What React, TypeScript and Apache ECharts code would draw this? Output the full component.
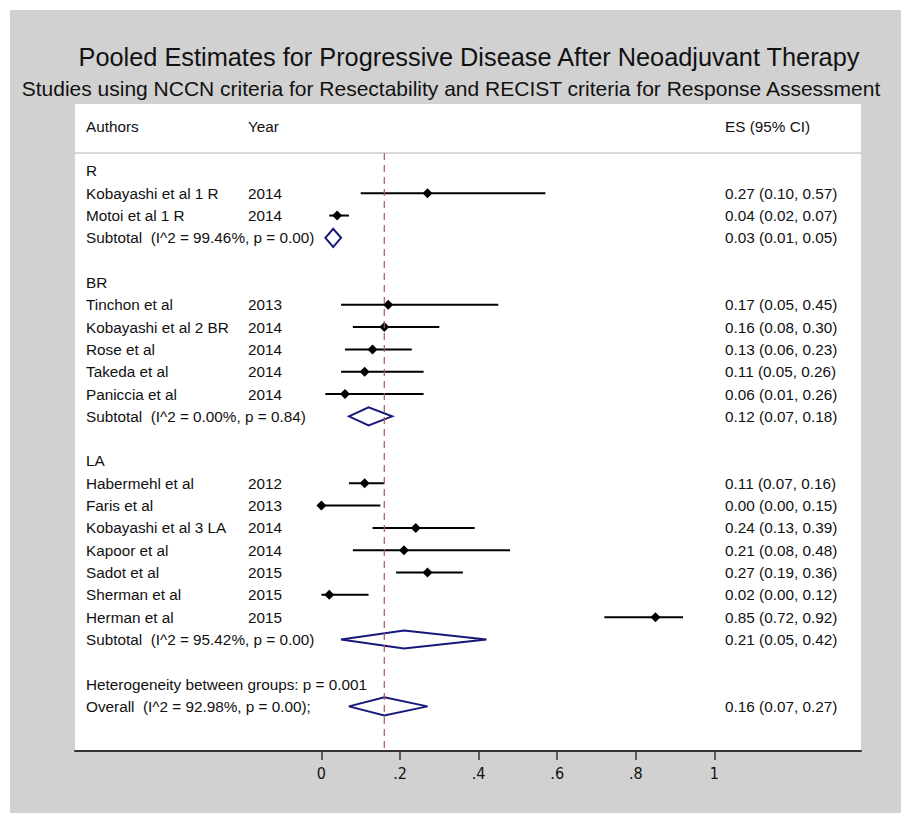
import React, { useEffect, useRef } from "react";
import * as echarts from "echarts";

// ---- data ----
const groupNames = ["R", "BR", "LA"];
const studyAuthors = [
  "Kobayashi et al 1 R", "Motoi et al 1 R",
  "Tinchon et al", "Kobayashi et al 2 BR", "Rose et al", "Takeda et al", "Paniccia et al",
  "Habermehl et al", "Faris et al", "Kobayashi et al 3 LA", "Kapoor et al", "Sadot et al", "Sherman et al", "Herman et al",
];
const studyGroup = ["R", "R", "BR", "BR", "BR", "BR", "BR", "LA", "LA", "LA", "LA", "LA", "LA", "LA"];
const studyYears = [2014, 2014, 2013, 2014, 2014, 2014, 2014, 2012, 2013, 2014, 2014, 2015, 2015, 2015];
const studyES = [0.27, 0.04, 0.17, 0.16, 0.13, 0.11, 0.06, 0.11, 0.0, 0.24, 0.21, 0.27, 0.02, 0.85];
const studyLo = [0.10, 0.02, 0.05, 0.08, 0.06, 0.05, 0.01, 0.07, 0.0, 0.13, 0.08, 0.19, 0.0, 0.72];
const studyHi = [0.57, 0.07, 0.45, 0.30, 0.23, 0.26, 0.26, 0.16, 0.15, 0.39, 0.48, 0.36, 0.12, 0.92];
const subtotalLabels = [
  "Subtotal  (I^2 = 99.46%, p = 0.00)",
  "Subtotal  (I^2 = 0.00%, p = 0.84)",
  "Subtotal  (I^2 = 95.42%, p = 0.00)",
];
const subtotalES = [0.03, 0.12, 0.21];
const subtotalLo = [0.01, 0.07, 0.05];
const subtotalHi = [0.05, 0.18, 0.42];
const heterogeneityLabel = "Heterogeneity between groups: p = 0.001";
const overallLabel = "Overall  (I^2 = 92.98%, p = 0.00);";
const overallES = 0.16;
const overallLo = 0.07;
const overallHi = 0.27;
const ticks = [0, 0.2, 0.4, 0.6, 0.8, 1];
const tickLabels = ["0", ".2", ".4", ".6", ".8", "1"];
const headerLabels = ["Authors", "Year", "ES (95% CI)"];
const titleText = "Pooled Estimates for Progressive Disease After Neoadjuvant Therapy";
const subtitleText = "Studies using NCCN criteria for Resectability and RECIST criteria for Response Assessment";

// ---- layout (x in axis units for text columns) ----
const X_MIN = -0.627;
const X_MAX = 1.373;
const COL_AUTH = -0.599;
const COL_YEAR = -0.187;
const COL_ES = 1.027;
const FONT = "'Liberation Sans', Arial, sans-serif";

const fmt = (es: number, lo: number, hi: number) =>
  `${es.toFixed(2)} (${lo.toFixed(2)}, ${hi.toFixed(2)})`;

type TextItem = { x: number; row: number; text: string };

function buildRows() {
  const texts: TextItem[] = [];
  const cis: number[][] = []; // [lo, hi, es, row]
  const diamonds: number[][] = []; // [lo, hi, es, row]
  let row = 0;
  groupNames.forEach((g, gi) => {
    texts.push({ x: COL_AUTH, row, text: g });
    row++;
    studyAuthors.forEach((a, i) => {
      if (studyGroup[i] !== g) return;
      texts.push({ x: COL_AUTH, row, text: a });
      texts.push({ x: COL_YEAR, row, text: String(studyYears[i]) });
      texts.push({ x: COL_ES, row, text: fmt(studyES[i], studyLo[i], studyHi[i]) });
      cis.push([studyLo[i], studyHi[i], studyES[i], row]);
      row++;
    });
    texts.push({ x: COL_AUTH, row, text: subtotalLabels[gi] });
    texts.push({ x: COL_ES, row, text: fmt(subtotalES[gi], subtotalLo[gi], subtotalHi[gi]) });
    diamonds.push([subtotalLo[gi], subtotalHi[gi], subtotalES[gi], row]);
    row += 2;
  });
  texts.push({ x: COL_AUTH, row, text: heterogeneityLabel });
  row++;
  texts.push({ x: COL_AUTH, row, text: overallLabel });
  texts.push({ x: COL_ES, row, text: fmt(overallES, overallLo, overallHi) });
  diamonds.push([overallLo, overallHi, overallES, row]);
  texts.push({ x: COL_AUTH, row: -2, text: headerLabels[0] });
  texts.push({ x: COL_YEAR, row: -2, text: headerLabels[1] });
  texts.push({ x: COL_ES, row: -2, text: headerLabels[2] });
  return { texts, cis, diamonds };
}

export default function App() {
  const ref = useRef<HTMLDivElement>(null);
  useEffect(() => {
    if (!ref.current) return;
    const chart = echarts.init(ref.current, null, { renderer: "svg" });
    const { texts, cis, diamonds } = buildRows();
    const Y_MIN = -3;
    const Y_MAX = 26;
    const HEAD_LINE = -0.8;

    const option: any = {
      animation: false,
      backgroundColor: "#d1d1d1",
      grid: {
        show: true,
        left: 65,
        right: 40,
        top: 94,
        bottom: 62,
        backgroundColor: "#ffffff",
        borderWidth: 0,
      },
      xAxis: {
        type: "value",
        min: X_MIN,
        max: X_MAX,
        axisLine: { show: true, onZero: false, lineStyle: { color: "#333333", width: 2 } },
        axisTick: {
          show: true,
          customValues: ticks,
          length: 9,
          lineStyle: { color: "#333333", width: 1.5 },
        },
        axisLabel: {
          customValues: ticks,
          margin: 14,
          fontSize: 16,
          color: "#111111",
          fontFamily: "'Liberation Sans Narrow', 'DejaVu Sans Condensed', sans-serif",
          formatter: (v: number) => {
            const i = ticks.findIndex((t) => Math.abs(t - v) < 1e-9);
            return i >= 0 ? tickLabels[i] : "";
          },
        },
        splitLine: { show: false },
      },
      yAxis: { type: "value", inverse: true, min: Y_MIN, max: Y_MAX, show: false },
      graphic: [
        {
          type: "text",
          x: 459,
          y: 47,
          scaleX: 0.975,
          style: {
            text: titleText,
            fontSize: 26,
            fontFamily: FONT,
            fill: "#111111",
            align: "center",
            verticalAlign: "middle",
          },
        },
        {
          type: "text",
          x: 441,
          y: 78,
          style: {
            text: subtitleText,
            fontSize: 21,
            fontFamily: FONT,
            fill: "#111111",
            align: "center",
            verticalAlign: "middle",
          },
        },
      ],
      series: [
        {
          type: "line",
          data: [[X_MIN, HEAD_LINE], [X_MAX, HEAD_LINE]],
          symbol: "none",
          lineStyle: { color: "#cccccc", width: 1.5 },
          silent: true,
        },
        {
          type: "line",
          data: [[overallES, HEAD_LINE], [overallES, Y_MAX]],
          symbol: "none",
          lineStyle: { color: "#b5535a", width: 1.2, type: [7, 5] },
          silent: true,
        },
        {
          type: "custom",
          data: cis,
          encode: { x: [0, 1, 2], y: 3 },
          renderItem: (params: any, api: any) => {
            const lo = api.value(0), hi = api.value(1), es = api.value(2), r = api.value(3);
            const p1 = api.coord([lo, r]);
            const p2 = api.coord([hi, r]);
            const pe = api.coord([es, r]);
            return {
              type: "group",
              children: [
                {
                  type: "line",
                  shape: { x1: p1[0], y1: p1[1], x2: p2[0], y2: p2[1] },
                  style: { stroke: "#000000", lineWidth: 2 },
                },
                {
                  type: "polygon",
                  shape: {
                    points: [
                      [pe[0] - 5, pe[1]],
                      [pe[0], pe[1] - 5],
                      [pe[0] + 5, pe[1]],
                      [pe[0], pe[1] + 5],
                    ],
                  },
                  style: { fill: "#000000" },
                },
              ],
            };
          },
        },
        {
          type: "custom",
          data: diamonds,
          encode: { x: [0, 1, 2], y: 3 },
          renderItem: (params: any, api: any) => {
            const lo = api.value(0), hi = api.value(1), es = api.value(2), r = api.value(3);
            const p1 = api.coord([lo, r]);
            const p2 = api.coord([hi, r]);
            const pe = api.coord([es, r]);
            return {
              type: "polygon",
              shape: {
                points: [
                  [p1[0], p1[1]],
                  [pe[0], pe[1] - 9],
                  [p2[0], p2[1]],
                  [pe[0], pe[1] + 9],
                ],
              },
              style: { fill: "none", stroke: "#17187a", lineWidth: 2 },
            };
          },
        },
        {
          type: "custom",
          data: texts.map((t, i) => [t.x, t.row, i]),
          encode: { x: 0, y: 1 },
          renderItem: (params: any, api: any) => {
            const idx = api.value(2);
            const p = api.coord([api.value(0), api.value(1)]);
            return {
              type: "text",
              x: p[0],
              y: p[1],
              style: {
                text: texts[idx].text,
                fontSize: 15.3,
                fontFamily: FONT,
                fill: "#111111",
                align: "left",
                verticalAlign: "middle",
              },
            };
          },
        },
      ],
    };
    chart.setOption(option);
    return () => chart.dispose();
  }, []);
  return (
    <div
      ref={ref}
      style={{ position: "absolute", left: 10, top: 10, width: 891, height: 803 }}
    />
  );
}
